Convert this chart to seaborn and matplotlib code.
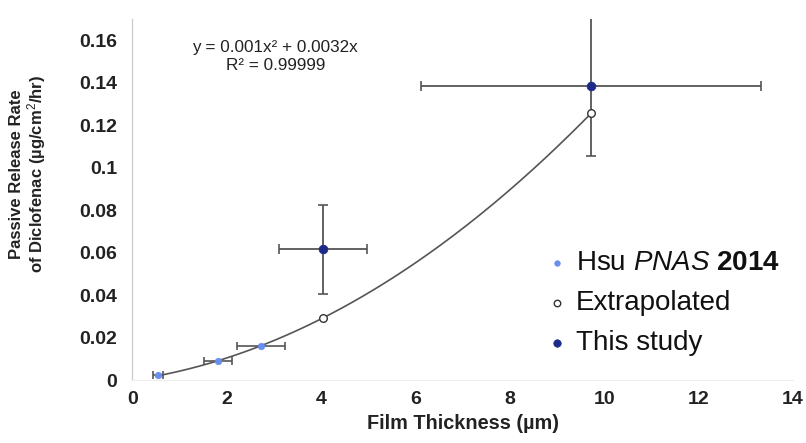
import numpy as np
import pandas as pd
import matplotlib
matplotlib.use("Agg")
import matplotlib.pyplot as plt
import seaborn as sns

# ---- data ----
hsu_x = [0.55, 1.82, 2.73]
hsu_y = [0.0024, 0.0088, 0.0160]
hsu_xerr = [0.10, 0.30, 0.50]

extrap_x = [4.05, 9.72]
extrap_y = [0.0294, 0.1256]

study_x = [4.05, 9.72]
study_y = [0.0616, 0.1385]
study_xerr = [0.93, 3.60]
study_yerr = [0.021, 0.033]

fit_a = 0.001
fit_b = 0.0032
fit_xmin, fit_xmax = 0.5, 9.72

x_ticks = [0, 2, 4, 6, 8, 10, 12, 14]
y_ticks = [0, 0.02, 0.04, 0.06, 0.08, 0.1, 0.12, 0.14, 0.16]
y_ticklabels = ["0", "0.02", "0.04", "0.06", "0.08", "0.1", "0.12", "0.14", "0.16"]

sns.set_theme(style="white")
plt.rcParams["font.family"] = ["Liberation Sans", "DejaVu Sans"]
plt.rcParams["mathtext.fontset"] = "custom"
plt.rcParams["mathtext.rm"] = "Liberation Sans"
plt.rcParams["mathtext.it"] = "Liberation Sans:italic"
plt.rcParams["mathtext.bf"] = "Liberation Sans:bold"

fig = plt.figure(figsize=(8.06, 4.43), dpi=100)
ax = fig.add_axes([0.164, 0.142, 0.820, 0.815])

err_col = "#555555"
hsu_col = "#6a8ef0"
study_col = "#1c2a8a"

# fit curve
fx = np.linspace(fit_xmin, fit_xmax, 200)
fit_df = pd.DataFrame({"x": fx, "y": fit_a * fx**2 + fit_b * fx})
sns.lineplot(data=fit_df, x="x", y="y", ax=ax, color="#555555", lw=1.2, zorder=2)

# error bars
ax.errorbar(hsu_x, hsu_y, xerr=hsu_xerr, fmt="none", ecolor=err_col, elinewidth=1.2,
            capsize=3, capthick=1.2, zorder=3)
ax.errorbar(study_x, study_y, xerr=study_xerr, yerr=study_yerr, fmt="none",
            ecolor=err_col, elinewidth=1.3, capsize=3.5, capthick=1.2, zorder=3)

# points
sns.scatterplot(x=hsu_x, y=hsu_y, ax=ax, color=hsu_col, s=22, edgecolor=hsu_col,
                linewidth=0.5, zorder=5, label=r"Hsu $\it{PNAS}$ $\bf{2014}$")
sns.scatterplot(x=extrap_x, y=extrap_y, ax=ax, facecolor="white", edgecolor="#333333",
                s=30, linewidth=1.0, zorder=4, label="Extrapolated")
sns.scatterplot(x=study_x, y=study_y, ax=ax, color=study_col, s=40, edgecolor=study_col,
                linewidth=0.5, zorder=5, label="This study")

ax.set_xlim(0, 14)
ax.set_ylim(0, 0.17)
ax.set_xticks(x_ticks)
ax.set_xticklabels([str(t) for t in x_ticks], fontsize=14, fontweight="bold", color="#222222")
ax.set_yticks(y_ticks)
ax.set_yticklabels(y_ticklabels, fontsize=14, fontweight="bold", color="#222222")
ax.tick_params(axis="y", direction="out", length=5, color="#bbbbbb", width=0.8, pad=6)
ax.tick_params(axis="x", direction="out", length=0, pad=8)

for s in ["top", "right"]:
    ax.spines[s].set_visible(False)
ax.spines["left"].set_color("#cccccc")
ax.spines["left"].set_linewidth(0.9)
ax.spines["bottom"].set_color("#eeeeee")
ax.spines["bottom"].set_linewidth(0.8)

ax.set_xlabel("Film Thickness (µm)", fontsize=14.3, fontweight="bold", color="#222222", labelpad=4)
ax.set_ylabel("Passive Release Rate\nof Diclofenac (µg/cm$^2$/hr)", fontsize=12,
              fontweight="bold", color="#222222", linespacing=1.05)
ax.yaxis.set_label_coords(-0.127, 0.57)

ax.text(3.03, 0.1525, "y = 0.001x² + 0.0032x\nR² = 0.99999", ha="center", va="center",
        fontsize=12.3, color="#222222", linespacing=1.25)

leg = ax.legend(loc="center left", bbox_to_anchor=(0.6, 0.213), frameon=False, fontsize=20,
                handletextpad=0.1, labelspacing=0.5, markerscale=0.85, handlelength=1.2,
                borderaxespad=0.0, borderpad=0.4)
for t in leg.get_texts():
    t.set_color("#111111")

fig.savefig("out.png", dpi=100)
